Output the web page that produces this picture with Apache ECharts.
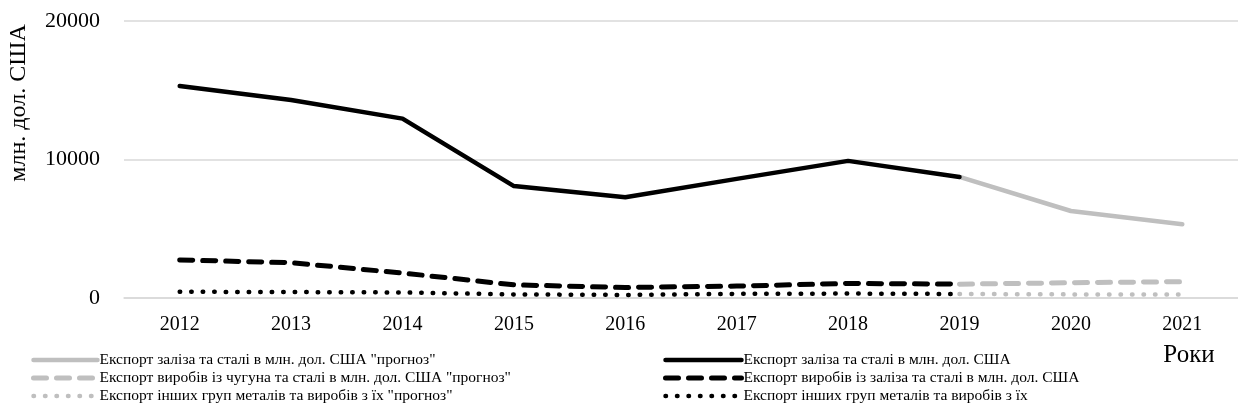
<!DOCTYPE html>
<html><head><meta charset="utf-8">
<script src="https://cdn.jsdelivr.net/npm/echarts@6/dist/echarts.min.js"></script>
<style>html,body{margin:0;padding:0;background:#fff}#c{width:1238px;height:414px}</style>
</head><body><div id="c"></div>
<script>
const years = ['2012','2013','2014','2015','2016','2017','2018','2019','2020','2021'];
const steelExport = [15300, 14300, 12950, 8080, 7280, 8600, 9900, 8740, null, null];
const steelForecast = [null, null, null, null, null, null, null, 8740, 6280, 5330];
const productsExport = [2750, 2550, 1800, 950, 760, 860, 1050, 1000, null, null];
const productsForecast = [null, null, null, null, null, null, null, 1000, 1100, 1180];
const otherExport = [450, 430, 400, 260, 220, 300, 320, 290, null, null];
const otherForecast = [null, null, null, null, null, null, null, 290, 260, 250];
const yTicks = [0, 10000, 20000];

const names = {
  sf: 'Експорт заліза та сталі в млн. дол. США "прогноз"',
  pf: 'Експорт виробів із чугуна та сталі в млн. дол. США "прогноз"',
  of: 'Експорт інших груп металів та виробів з їх "прогноз"',
  s: 'Експорт заліза та сталі в млн. дол. США',
  p: 'Експорт виробів із заліза та сталі в млн. дол. США',
  o: 'Експорт інших груп металів та виробів з їх'
};
const FONT = '"Liberation Serif", "Times New Roman", serif';
const GRAY = '#bfbfbf';
const dashT = [13, 10], dotT = [0.5, 11];
const styles = {
  sf: { color: GRAY, width: 4.5, type: 'solid' },
  pf: { color: GRAY, width: 5, type: dashT },
  of: { color: GRAY, width: 4.5, type: dotT },
  s: { color: '#000', width: 4.5, type: 'solid' },
  p: { color: '#000', width: 5, type: dashT },
  o: { color: '#000', width: 4.5, type: dotT }
};
function ser(key, data) {
  const st = styles[key];
  return { name: names[key], type: 'line', data, symbol: 'none', silent: true,
    lineStyle: { color: st.color, width: st.width, type: st.type, cap: 'round', join: 'round' },
    itemStyle: { color: st.color } };
}
function legItem(key) {
  const st = styles[key];
  return { name: names[key],
    itemStyle: { opacity: 0 },
    lineStyle: { color: st.color, width: st.width, type: st.type, cap: 'round', opacity: 1 } };
}
const chart = echarts.init(document.getElementById('c'));
const legendCommon = { orient: 'vertical', itemHeight: 14, itemGap: 2,
  itemStyle: { opacity: 0 },
  textStyle: { fontFamily: FONT, fontSize: 15.5, color: '#000', padding: [0,0,0,-3] }, selectedMode: false };
chart.setOption({
  animation: false,
  grid: { left: 124, right: -12, top: 21, bottom: 116 },
  xAxis: { type: 'category', data: years, boundaryGap: true,
    axisLine: { lineStyle: { color: '#d9d9d9', width: 1.5 } }, axisTick: { show: false },
    axisLabel: { fontFamily: FONT, fontSize: 20, color: '#000', margin: 17 } },
  yAxis: { type: 'value', min: yTicks[0], max: yTicks[yTicks.length-1], interval: yTicks[1]-yTicks[0],
    axisLine: { show: false }, axisTick: { show: false },
    splitLine: { lineStyle: { color: '#d9d9d9', width: 1.5 } },
    axisLabel: { fontFamily: FONT, fontSize: 22, color: '#000', margin: 24, formatter: v => String(v) } },
  legend: [
    Object.assign({ left: 26, top: 347, itemWidth: 64, data: ['sf','pf','of'].map(legItem) }, legendCommon),
    Object.assign({ left: 658, top: 347, itemWidth: 76, data: ['s','p','o'].map(legItem) }, legendCommon)
  ],
  graphic: [
    { type: 'text', x: 19, y: 103, rotation: Math.PI/2,
      style: { text: 'млн. дол. США', font: '24px ' + FONT, fill: '#000', align: 'center', verticalAlign: 'middle' } },
    { type: 'text', x: 1189, y: 355,
      style: { text: 'Роки', font: '25px ' + FONT, fill: '#000', align: 'center', verticalAlign: 'middle' } }
  ],
  series: [
    ser('sf', steelForecast), ser('pf', productsForecast), ser('of', otherForecast),
    ser('s', steelExport), ser('p', productsExport), ser('o', otherExport)
  ]
});
</script></body></html>
